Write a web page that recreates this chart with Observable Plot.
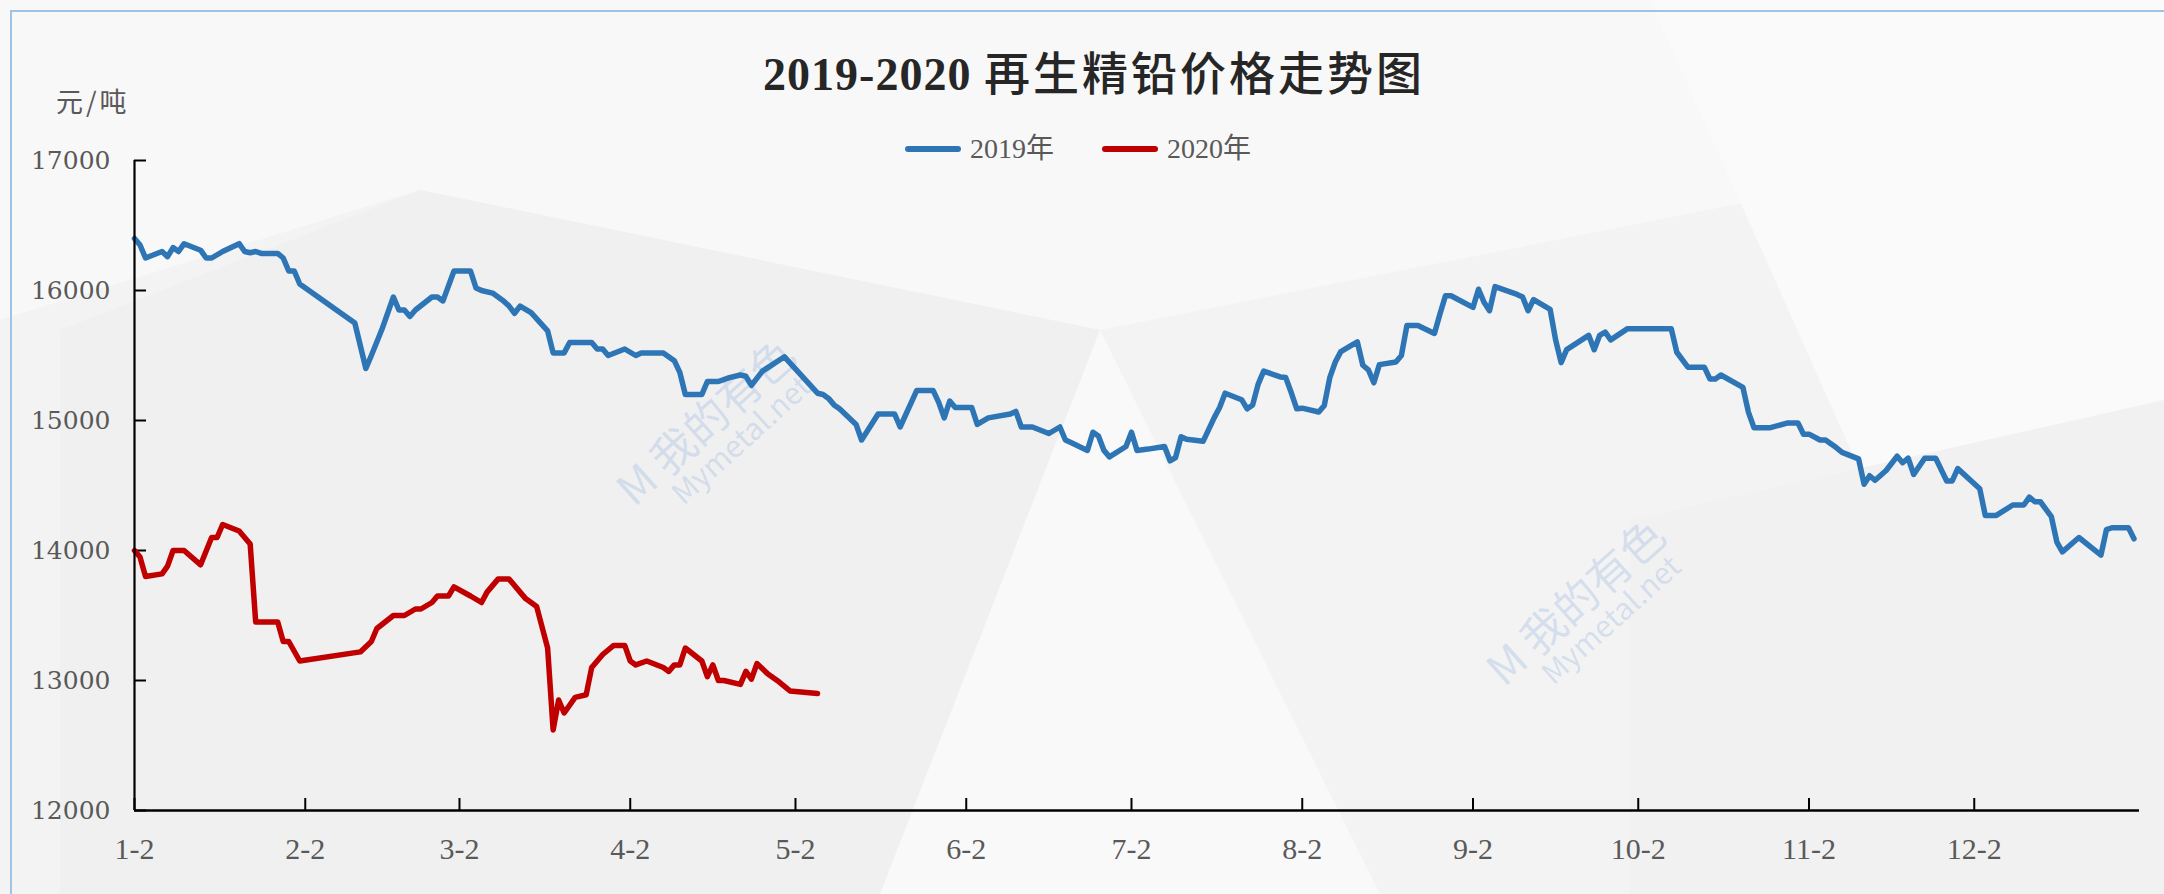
<!DOCTYPE html>
<html>
<head>
<meta charset="utf-8">
<script src="https://cdn.jsdelivr.net/npm/d3@7"></script>
<script src="https://cdn.jsdelivr.net/npm/@observablehq/plot@0.6"></script>
<style>
  html, body { margin: 0; padding: 0; background: #ffffff; }
  #wrap { position: relative; width: 2164px; height: 894px; overflow: hidden; background: #f3f3f3; }
  #bg { position: absolute; left: 0; top: 0; }
  #frame { position: absolute; left: 10px; top: 10px; right: -10px; bottom: -10px; border-top: 2px solid #9dc3e6; border-left: 2px solid #9dc3e6; }
  #title { position: absolute; left: 1094px; top: 46px; transform: translateX(-50%); white-space: nowrap;
           font-family: "Liberation Serif", "Noto Sans CJK SC", serif; font-size: 46px; line-height: 48px; color: #262626; letter-spacing: 1px; }
  #title .num { font-weight: bold; }
  #title .cjk { font-family: "Noto Sans CJK SC", sans-serif; font-weight: 500; letter-spacing: 3px; }
  #unit { position: absolute; left: 56px; top: 86px; font-family: "Noto Sans CJK SC", sans-serif; font-size: 27px; line-height: 30px; color: #595959; letter-spacing: 3px; }
  .sw { position: absolute; height: 6px; border-radius: 3px; top: 146px; width: 56px; }
  .lt { position: absolute; top: 132px; font-family: "Liberation Serif", "Noto Sans CJK SC", serif; font-size: 28px; line-height: 34px; color: #595959; }
  .wm { position: absolute; transform-origin: 0 0; white-space: nowrap; color: rgba(110,150,215,0.22); font-family: "Noto Sans CJK SC", sans-serif; }
  #chart { position: absolute; left: 0; top: 0; }
</style>
</head>
<body>
<div id="wrap">
  <svg id="bg" width="2164" height="894">
    <polygon points="0,0 2164,0 2164,120 1100,330 420,190 0,320" fill="#f8f8f8"/>
    <polygon points="60,330 420,190 1100,330 1380,894 60,894" fill="#f0f0f0"/>
    <polygon points="1100,330 1380,894 880,894" fill="#f9f9f9"/>
    <polygon points="1650,0 2164,0 2164,560 1900,560" fill="#fafafa"/>
    <polygon points="1630,520 2164,400 2164,894 1630,894" fill="#f1f1f1"/>
  </svg>
  <div id="frame"></div>
  <div class="wm" style="left:600px;top:470px;transform:rotate(-42deg);font-size:44px;">M 我的有色</div>
  <div class="wm" style="left:660px;top:480px;transform:rotate(-42deg);font-size:30px;">Mymetal.net</div>
  <div class="wm" style="left:1470px;top:650px;transform:rotate(-42deg);font-size:44px;">M 我的有色</div>
  <div class="wm" style="left:1530px;top:660px;transform:rotate(-42deg);font-size:30px;">Mymetal.net</div>
  <div id="chart"></div>
  <div id="title"><span class="num">2019-2020 </span><span class="cjk">再生精铅价格走势图</span></div>
  <div id="unit">元/吨</div>
  <div class="sw" style="left:905px;background:#2e75b6;"></div>
  <div class="lt" style="left:970px;">2019年</div>
  <div class="sw" style="left:1102px;background:#c00000;"></div>
  <div class="lt" style="left:1167px;">2020年</div>
</div>
<script>
// ---- data (month-day positions on the shared axis, price in 元/吨) ----
const seriesNames = ["2019年", "2020年"];
const seriesColors = ["#2e75b6", "#c00000"];

const dates2019 = ["1-2","1-3","1-4","1-7","1-8","1-9","1-10","1-11","1-14","1-15","1-16","1-18","1-21","1-22","1-23","1-24","1-25","1-28","1-29","1-30","1-31",
"2-1","2-11","2-13","2-14","2-16","2-18","2-19","2-20","2-21","2-22","2-25","2-26","2-27",
"3-1","3-4","3-5","3-6","3-8","3-10","3-11","3-12","3-13","3-15","3-18","3-19","3-21","3-22","3-26","3-27","3-28","3-29",
"4-1","4-3","4-4","4-8","4-10","4-11","4-12","4-15","4-16","4-18","4-20","4-22","4-23","4-24","4-26","4-30",
"5-6","5-7","5-8","5-9","5-10","5-13","5-14","5-17","5-20","5-21","5-24","5-27","5-28","5-29","5-30","5-31",
"6-3","6-4","6-6","6-10","6-11","6-12","6-14","6-17","6-19","6-20","6-21","6-24","6-25","6-26","6-27","6-28",
"7-1","7-2","7-3","7-5","7-8","7-9","7-10","7-11","7-12","7-15","7-17","7-18","7-19","7-22","7-23","7-24","7-25","7-26","7-29","7-30","7-31",
"8-1","8-2","8-5","8-6","8-7","8-8","8-9","8-12","8-13","8-14","8-15","8-16","8-19","8-20","8-21","8-23","8-26","8-27","8-28","8-29",
"9-2","9-3","9-4","9-5","9-6","9-10","9-11","9-12","9-13","9-16","9-17","9-18","9-19","9-23","9-24","9-25","9-26","9-27","9-30",
"10-8","10-9","10-11","10-14","10-15","10-16","10-17","10-21","10-22","10-23","10-26","10-29","10-31",
"11-1","11-2","11-4","11-5","11-7","11-8","11-11","11-12","11-13","11-14","11-16","11-18","11-19","11-20","11-21","11-23","11-25","11-27","11-28","11-29",
"12-3","12-4","12-6","12-9","12-11","12-12","12-13","12-14","12-16","12-17","12-18","12-21","12-25","12-26","12-27","12-30","12-31"];
const prices2019 = [16400,16350,16250,16300,16260,16330,16300,16360,16310,16250,16250,16300,16360,16300,16290,16300,16285,16285,16250,16150,16150,
16050,15750,15400,15500,15710,15950,15850,15850,15800,15850,15950,15950,15920,
16150,16150,16020,16000,15980,15920,15880,15825,15880,15830,15690,15520,15520,15600,15600,15550,15550,15500,
15550,15500,15520,15520,15460,15370,15200,15200,15300,15300,15330,15350,15340,15270,15380,15490,
15210,15200,15170,15120,15090,14970,14850,15050,15050,14950,15230,15230,15140,15020,15150,15100,
15100,14970,15020,15050,15070,14950,14950,14900,14950,14850,14830,14770,14910,14880,14770,14720,
14800,14910,14770,14780,14800,14690,14715,14875,14855,14840,15020,15100,15210,15160,15090,15120,15280,15380,15335,15330,15215,
15090,15095,15065,15115,15330,15450,15530,15605,15425,15390,15290,15430,15450,15500,15730,15730,15670,15820,15960,15960,
15870,16010,15910,15845,16030,15970,15950,15845,15930,15855,15620,15445,15545,15655,15545,15655,15680,15620,15705,
15705,15525,15410,15410,15320,15320,15350,15255,15065,14945,14945,14980,14980,
14895,14895,14850,14850,14790,14755,14705,14510,14575,14540,14615,14725,14675,14710,14585,14710,14710,14535,14535,14630,
14475,14270,14270,14350,14350,14410,14375,14375,14260,14065,13990,14100,13965,14160,14175,14175,14090];

const dates2020 = ["1-2","1-3","1-4","1-7","1-8","1-9","1-11","1-14","1-16","1-17","1-18","1-21","1-22","1-23","1-24","1-28","1-29","1-30",
"2-1","2-12","2-14","2-15","2-18","2-20","2-22","2-23","2-25","2-26","2-28",
"3-1","3-4","3-6","3-7","3-9","3-11","3-13","3-14","3-16","3-18","3-19","3-20","3-21","3-23","3-25","3-26","3-28","3-30",
"4-1","4-2","4-3","4-5","4-8","4-9","4-10","4-11","4-12","4-15","4-16","4-17","4-18","4-19","4-22","4-23","4-24","4-25","4-27","4-29",
"5-1","5-6"];
const prices2020 = [14000,13950,13800,13820,13880,14000,14000,13890,14100,14100,14200,14150,14100,14050,13450,13450,13300,13300,
13150,13220,13300,13400,13500,13500,13550,13550,13600,13650,13650,
13720,13650,13600,13680,13780,13780,13680,13630,13570,13250,12620,12850,12750,12870,12890,13100,13200,13270,
13270,13150,13120,13150,13100,13070,13120,13120,13250,13150,13030,13120,13000,13000,12970,13070,13010,13130,13050,12990,
12920,12900];

const xTickLabels = ["1-2","2-2","3-2","4-2","5-2","6-2","7-2","8-2","9-2","10-2","11-2","12-2"];
const yTicks = [12000, 13000, 14000, 15000, 16000, 17000];
const xStartLabel = "1-2";
const xEndLabel = "12-31";

// ---- build ----
const md = s => { const [m, d] = s.split("-").map(Number); return new Date(Date.UTC(2019, m - 1, d)); };
const rows = [
  ...dates2019.map((d, i) => ({date: md(d), price: prices2019[i], series: seriesNames[0]})),
  ...dates2020.map((d, i) => ({date: md(d), price: prices2020[i], series: seriesNames[1]}))
];
const xStart = md(xStartLabel);
const xEnd = new Date(md(xEndLabel).getTime() + 86400000);

const chart = Plot.plot({
  width: 2164,
  height: 894,
  marginLeft: 134,
  marginRight: 25,
  marginTop: 160,
  marginBottom: 84,
  style: {background: "transparent", overflow: "visible"},
  x: {type: "utc", domain: [xStart, xEnd]},
  y: {domain: [12000, 17000]},
  color: {domain: seriesNames, range: seriesColors},
  marks: [
    Plot.axisY({ticks: yTicks, tickSize: -12, tickPadding: 36, label: null, stroke: "#000", strokeWidth: 2, fill: "#595959",
      fontSize: 25, fontFamily: "DejaVu Serif", tickFormat: d => String(d)}),
    Plot.axisX({ticks: xTickLabels.map(md), tickSize: -12, tickPadding: 51, lineAnchor: "middle", label: null, stroke: "#000", strokeWidth: 2, fill: "#595959",
      fontSize: 30, fontFamily: "Liberation Serif", tickFormat: d => `${d.getUTCMonth() + 1}-${d.getUTCDate()}`}),
    Plot.lineY(rows, {x: "date", y: "price", z: "series", stroke: "series", strokeWidth: 5.5, strokeLinejoin: "round", strokeLinecap: "round"}),
    Plot.ruleX([xStart], {stroke: "#000", strokeWidth: 2.2}),
    Plot.ruleY([12000], {stroke: "#000", strokeWidth: 2.6})
  ]
});
document.getElementById("chart").appendChild(chart);
</script>
</body>
</html>
